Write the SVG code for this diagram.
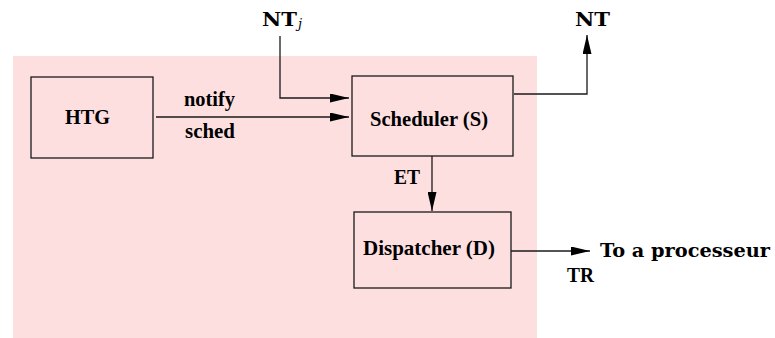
<svg xmlns="http://www.w3.org/2000/svg" width="775" height="338" viewBox="0 0 775 338">
<defs>
<style>
.box{fill:none;stroke:#1a1a1a;stroke-width:1.3}
.ln{fill:none;stroke:#1a1a1a;stroke-width:1.3}
.lb{font-family:"Liberation Serif","Times New Roman",serif;font-weight:bold;font-size:21px;fill:#000}
.cm{font-family:"DejaVu Serif","Liberation Serif",serif;font-weight:bold;font-size:19px;fill:#000}
</style>
<marker id="ah" markerWidth="19" markerHeight="9" refX="19" refY="4.5" orient="auto" markerUnits="userSpaceOnUse">
<path d="M0,0 L19,4.5 L0,9 Z" fill="#000"/>
</marker>
</defs>
<rect x="13" y="56" width="524" height="282" fill="#fedfe0"/>
<g id="connectors">
<polyline class="ln" points="280,36 280,98 349,98" marker-end="url(#ah)"/>
<line class="ln" x1="156" y1="117" x2="349" y2="117" marker-end="url(#ah)"/>
<polyline class="ln" points="514,94 587,94 587,35" marker-end="url(#ah)"/>
<line class="ln" x1="432" y1="156" x2="432" y2="211" marker-end="url(#ah)"/>
<line class="ln" x1="511" y1="251" x2="590" y2="251" marker-end="url(#ah)"/>
<text class="lb" x="184" y="106" textLength="51" lengthAdjust="spacingAndGlyphs">notify</text>
<text class="lb" x="185" y="138" textLength="50" lengthAdjust="spacingAndGlyphs">sched</text>
<text class="lb" x="394" y="184" textLength="26" lengthAdjust="spacingAndGlyphs">ET</text>
<text class="lb" x="567" y="282" textLength="27" lengthAdjust="spacingAndGlyphs">TR</text>
</g>
<g id="htg">
<rect class="box" x="31" y="77" width="122" height="81"/>
<text class="lb" x="65" y="124" textLength="45" lengthAdjust="spacingAndGlyphs">HTG</text>
</g>
<g id="scheduler">
<rect class="box" x="352" y="76" width="161" height="80"/>
<text class="lb" x="370" y="126" textLength="118" lengthAdjust="spacingAndGlyphs">Scheduler (S)</text>
</g>
<g id="dispatcher">
<rect class="box" x="354" y="212" width="157" height="76"/>
<text class="lb" x="363" y="255" textLength="132" lengthAdjust="spacingAndGlyphs">Dispatcher (D)</text>
</g>
<g id="ntj">
<text class="cm" x="262" y="26" textLength="35" lengthAdjust="spacingAndGlyphs">NT</text>
<text x="298" y="28" style="font-family:'DejaVu Serif',serif;font-style:italic;font-size:13px">j</text>
</g>
<g id="nt">
<text class="cm" x="575" y="26" textLength="35" lengthAdjust="spacingAndGlyphs">NT</text>
</g>
<g id="processor">
<text class="cm" x="600" y="257" textLength="170" lengthAdjust="spacingAndGlyphs">To a processeur</text>
</g>
</svg>
